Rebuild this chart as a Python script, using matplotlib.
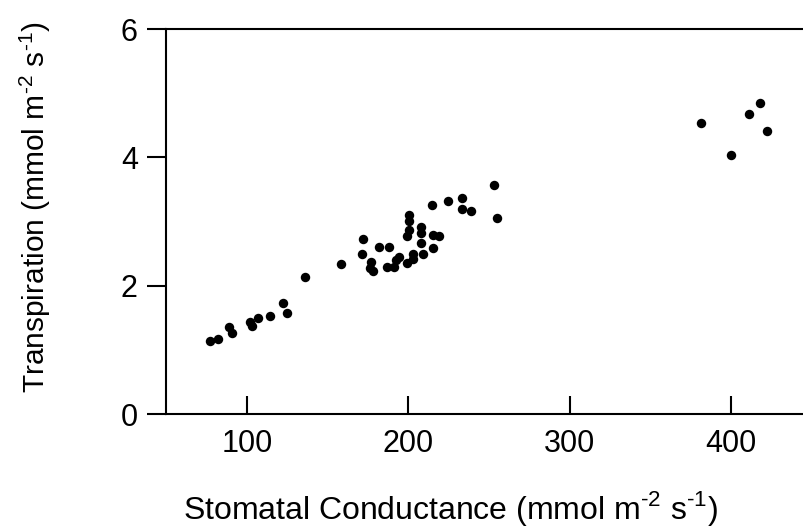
import numpy as np
import matplotlib
matplotlib.use("Agg")
import matplotlib.pyplot as plt

plt.rcParams['font.family'] = ['Liberation Sans', 'DejaVu Sans']
plt.rcParams['mathtext.fontset'] = 'custom'
plt.rcParams['mathtext.rm'] = 'Liberation Sans'

# stomatal conductance (mmol m-2 s-1)
conductance = [77, 82, 89, 90.5, 102, 103, 107, 114, 122, 125, 136,
               158.5, 172, 171, 177, 176, 178, 181.5, 188, 187, 191, 192, 194,
               199, 202.5, 202.5, 199, 200.5, 200.5, 200.5, 208, 208, 208, 209,
               215, 219, 215, 214.5, 224.5, 233, 233, 239, 253, 255,
               381, 400, 411, 418, 422]
# transpiration (mmol m-2 s-1)
transpiration = [1.14, 1.17, 1.36, 1.26, 1.44, 1.37, 1.49, 1.52, 1.73, 1.58, 2.14,
                 2.34, 2.72, 2.49, 2.37, 2.27, 2.23, 2.61, 2.61, 2.29, 2.29, 2.40, 2.44,
                 2.36, 2.49, 2.41, 2.77, 2.87, 3.10, 3.01, 2.92, 2.82, 2.67, 2.50,
                 2.79, 2.77, 2.58, 3.26, 3.32, 3.36, 3.19, 3.16, 3.57, 3.05,
                 4.53, 4.03, 4.68, 4.84, 4.41]

units = ' (mmol m$^{\\text{-2}}$ s$^{\\text{-1}}$)'

fig = plt.figure(figsize=(8.04, 5.31), dpi=100)
ax = fig.add_axes([166.3 / 804, 117 / 531, (804 - 166.3) / 804, 385 / 531])

ax.plot(conductance, transpiration, 'o', color='black', markersize=6.8, markeredgewidth=0)

ax.set_xlim(50, 445)
ax.set_ylim(0, 6)
ax.set_xticks([100, 200, 300, 400])
ax.set_yticks([0, 2, 4, 6])

ax.spines['right'].set_visible(False)
for s in ['left', 'bottom', 'top']:
    ax.spines[s].set_linewidth(1.5)

ax.tick_params(axis='x', direction='in', length=13, width=1.5, labelsize=22, pad=11)
ax.tick_params(axis='y', direction='out', length=13.5, width=1.5, labelsize=22, pad=7)

fig.text(450 / 804, 1 - 509 / 531, 'Stomatal Conductance' + units,
         ha='center', va='center', fontsize=23)
fig.text(35 / 804, 1 - 207 / 531, 'Transpiration' + units,
         ha='center', va='center', rotation=90, fontsize=21.5)

fig.savefig('out.png', dpi=100)
